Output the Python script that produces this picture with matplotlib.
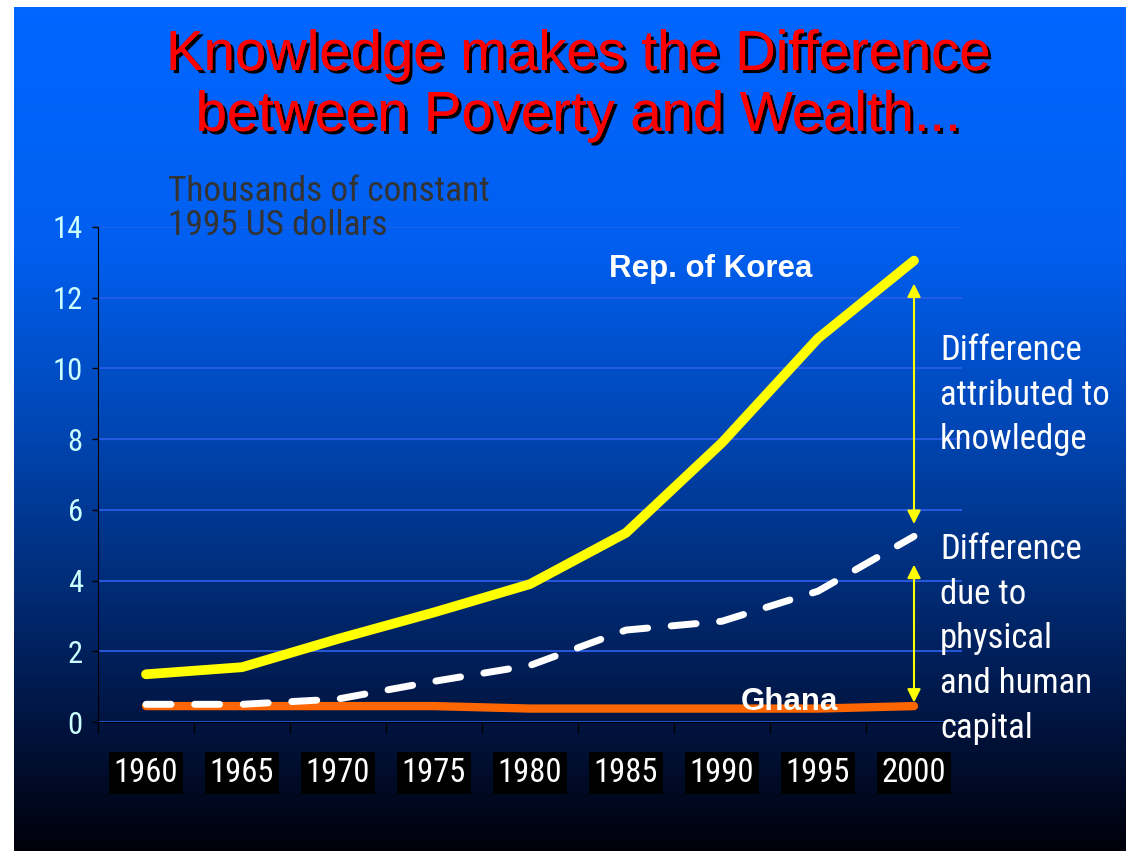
"""Korea vs Ghana GDP per capita slide"""

import numpy as np
import matplotlib
matplotlib.use("Agg")
import matplotlib.pyplot as plt
import matplotlib.patheffects as pe
from matplotlib import font_manager
from matplotlib.font_manager import FontProperties
from matplotlib.colors import LinearSegmentedColormap

years = ["1960", "1965", "1970", "1975", "1980", "1985", "1990", "1995", "2000"]
korea = [1.35, 1.55, 2.35, 3.1, 3.9, 5.35, 7.9, 10.85, 13.05]
capital = [0.5, 0.5, 0.65, 1.15, 1.6, 2.6, 2.85, 3.7, 5.25]
ghana = [0.45, 0.45, 0.45, 0.45, 0.38, 0.38, 0.38, 0.38, 0.45]
y_ticks = [0, 2, 4, 6, 8, 10, 12, 14]

# the slide uses Arial Narrow, look for an upright condensed face
narrow_file = None
for want in ["LiberationSansNarrow-Regular", "RobotoCondensed[wght]",
             "RobotoCondensed-Regular", "ArchivoNarrow[wght]"]:
    for f in font_manager.fontManager.ttflist:
        if f.fname.split("/")[-1].startswith(want):
            narrow_file = f.fname
            break
    if narrow_file:
        break


def narrow(size):
    if narrow_file:
        return FontProperties(fname=narrow_file, size=size)
    return FontProperties(family="Liberation Sans", size=size * 0.88)


W, H = 1126, 851
fig = plt.figure(figsize=(W / 100, H / 100), dpi=100)
fig.patch.set_facecolor("white")

# gradient background
bg = fig.add_axes([14 / W, 0, 1 - 14 / W, (H - 7) / H])
bg.axis("off")
cmap = LinearSegmentedColormap.from_list("slide", [
    (0.0, "#0066ff"), (0.28, "#005ff0"), (0.5, "#0046b4"),
    (0.7, "#002a72"), (0.85, "#001440"), (1.0, "#00000a")])
bg.imshow(np.linspace(0, 1, 256).reshape(-1, 1), aspect="auto", cmap=cmap,
          extent=[0, 1, 0, 1])
bg.set_xlim(0, 1)
bg.set_ylim(0, 1)

ax = fig.add_axes([98 / W, 129 / H, 864 / W, 495 / H])
ax.set_facecolor("none")
x = np.arange(len(years))

ax.plot(x, ghana, color="#ff6600", lw=6, solid_capstyle="round", zorder=3)
ax.plot(x, capital, color="white", lw=5, dashes=(3.6, 3.4),
        dash_capstyle="round", zorder=4)
ax.plot(x, korea, color="#ffff00", lw=7, solid_capstyle="round",
        solid_joinstyle="round", zorder=5)

ax.set_xlim(-0.5, len(years) - 0.5)
ax.set_ylim(0, 14)
ax.set_yticks(y_ticks)
ax.set_yticklabels([str(v) for v in y_ticks], color="#ccffff")
for t in ax.get_yticklabels():
    t.set_fontproperties(narrow(22))
ax.tick_params(axis="y", length=4, width=1, color="black", pad=7)
ax.yaxis.grid(True, color="#2a5ce8", lw=1.3)
ax.set_axisbelow(True)

ax.set_xticks(np.arange(-0.5, len(years)), labels=[])
ax.set_xticks(x, labels=years, minor=True)
ax.tick_params(axis="x", which="major", length=8, width=1, color="black")
ax.tick_params(axis="x", which="minor", length=0, pad=25)
for t in ax.get_xticklabels(minor=True):
    t.set_fontproperties(narrow(23.5))
    t.set_color("white")
    t.set_bbox(dict(boxstyle="square,pad=0.15", fc="black", ec="none"))

for s in ["top", "right"]:
    ax.spines[s].set_visible(False)
ax.spines["left"].set_color("black")
ax.spines["bottom"].set_color("black")

# arrows at 2000
arr = dict(arrowstyle="<|-|>", color="#ffff00", lw=1.5, mutation_scale=20,
           shrinkA=0, shrinkB=0)
ax.annotate("", xy=(8, 12.4), xytext=(8, 5.6), arrowprops=arr, zorder=6)
ax.annotate("", xy=(8, 4.45), xytext=(8, 0.55), arrowprops=arr, zorder=6)

ax.text(5.88, 12.6, "Rep. of Korea", fontsize=22.5, family="Liberation Sans",
        fontweight="bold", color="white", ha="center", va="baseline")
ax.text(6.7, 0.34, "Ghana", fontsize=22.5, family="Liberation Sans",
        fontweight="bold", color="white", ha="center", va="baseline")

# title with shadow
shadow = [pe.withSimplePatchShadow(offset=(2.2, -2.2), shadow_rgbFace="black",
                                   alpha=1), pe.Normal()]
fig.text(578 / W, 1 - 30 / H,
         "Knowledge makes the Difference\nbetween Poverty and Wealth...",
         fontsize=40.5, family="Liberation Sans", color="#ff0000",
         ha="center", va="top", linespacing=1.22, path_effects=shadow)

fig.text(168 / W, 1 - 175 / H, "Thousands of constant\n1995 US dollars",
         fontproperties=narrow(25.5), color="#333333", ha="left", va="top",
         linespacing=1.05)

fig.text(940 / W, 1 - 334 / H, "Difference\nattributed to\nknowledge",
         fontproperties=narrow(25), color="white", ha="left", va="top",
         linespacing=1.45)
fig.text(940 / W, 1 - 533 / H,
         "Difference\ndue to\nphysical\nand human\ncapital",
         fontproperties=narrow(25), color="white", ha="left", va="top",
         linespacing=1.45)

fig.savefig("out.png", dpi=100, facecolor=fig.get_facecolor())
